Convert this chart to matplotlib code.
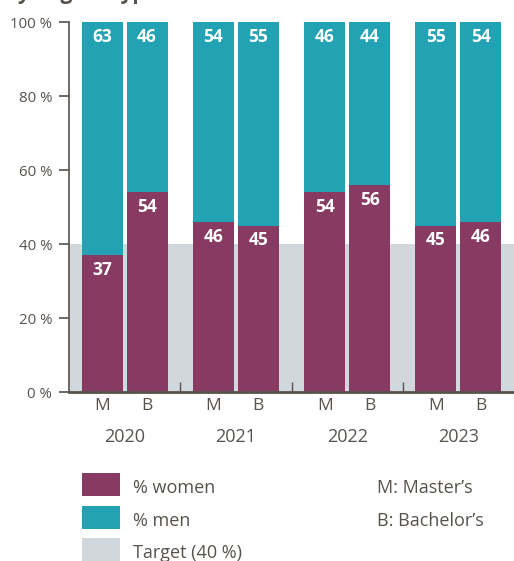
import numpy as np
import matplotlib
matplotlib.use("Agg")
import matplotlib.pyplot as plt
from matplotlib.patches import Rectangle
from matplotlib.transforms import blended_transform_factory

plt.rcParams['font.family'] = ['Open Sans', 'DejaVu Sans']

# data
years = ['2020', '2021', '2022', '2023']
degrees = ['M', 'B']
women_master = [37, 46, 54, 45]
women_bachelor = [54, 45, 56, 46]
men_master = [63, 54, 46, 55]
men_bachelor = [46, 55, 44, 54]
target = 40

c_women = '#873a62'
c_men = '#22a2b2'
c_target = '#d0d8de'
c_text = '#58524c'

fig = plt.figure(figsize=(5.14, 5.61), dpi=100)
ax = fig.add_axes([69 / 514, 1 - 392 / 561, 445 / 514, 370 / 561])

x = np.arange(len(years))
off = 0.202
w = 0.368

# target band behind the bars
ax.axhspan(0, target, color=c_target, zorder=0, lw=0)

for pos, women, men in [(x - off, women_master, men_master),
                        (x + off, women_bachelor, men_bachelor)]:
    ax.bar(pos, women, w, color=c_women, zorder=2, lw=0)
    ax.bar(pos, men, w, bottom=women, color=c_men, zorder=2, lw=0)
    for xi, wv, mv in zip(pos, women, men):
        ax.text(xi, wv - 4, str(wv), ha='center', va='center', color='white',
                fontsize=12.5, fontweight='bold', zorder=3)
        ax.text(xi, wv + mv - 4, str(mv), ha='center', va='center', color='white',
                fontsize=12.5, fontweight='bold', zorder=3)

ax.set_xlim(-0.5, 3.5)
ax.set_ylim(0, 100)

ax.set_yticks(range(0, 101, 20))
ax.set_yticklabels([f'{v} %' for v in range(0, 101, 20)])
ax.tick_params(axis='y', length=7, width=1.2, color=c_text, labelcolor=c_text,
               labelsize=10.8, pad=5)

ticks = np.concatenate([x - off, x + off])
ax.set_xticks(ticks)
ax.set_xticklabels(['M'] * len(years) + ['B'] * len(years))
ax.tick_params(axis='x', length=0, labelcolor=c_text, labelsize=12.5, pad=4)
ax.set_xticks([0.5, 1.5, 2.5], minor=True)
ax.tick_params(axis='x', which='minor', direction='in', length=7, width=1,
               color=c_text)

trans = blended_transform_factory(ax.transData, ax.transAxes)
for xi, yr in zip(x, years):
    ax.text(xi, -0.122, yr, transform=trans, ha='center', va='center',
            color=c_text, fontsize=13)

for side in ['top', 'right']:
    ax.spines[side].set_visible(False)
ax.spines['left'].set_color(c_text)
ax.spines['left'].set_linewidth(1.2)
ax.spines['bottom'].set_color(c_text)
ax.spines['bottom'].set_linewidth(2)
ax.spines['bottom'].set_zorder(4)

# heading above the chart, mostly cropped by the top edge
fig.text(5 / 514, 1 + 1.5 / 561, 'by degree type', ha='left', va='baseline',
         fontsize=15, fontweight='bold', color=c_text)

# legend
items = [(c_women, '% women'), (c_men, '% men'), (c_target, 'Target (40 %)')]
for i, (col, lab) in enumerate(items):
    top = 473 + i * 32.5
    fig.patches.append(Rectangle((82 / 514, 1 - (top + 23) / 561), 38 / 514, 23 / 561,
                                 transform=fig.transFigure, color=col, lw=0))
    fig.text(133 / 514, 1 - (top + 15) / 561, lab, ha='left', va='center',
             fontsize=13, color=c_text)
for i, lab in enumerate(["M: Master\u2019s", "B: Bachelor\u2019s"]):
    fig.text(377 / 514, 1 - (488 + i * 32.5) / 561, lab, ha='left', va='center',
             fontsize=13, color=c_text)

fig.savefig('out.png', dpi=100)
